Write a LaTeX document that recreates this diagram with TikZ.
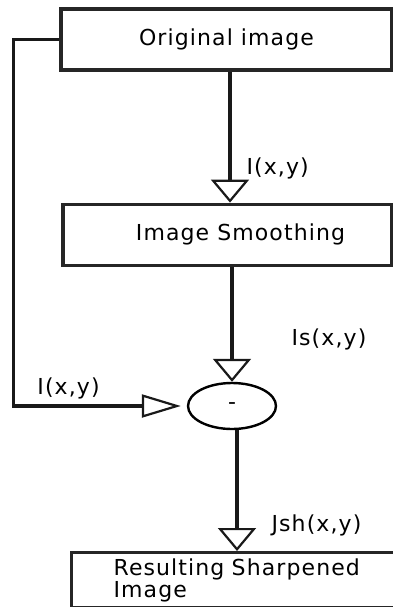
\documentclass[tikz,border=0pt]{standalone}
\usepackage{fontspec}
\newfontfamily\diagfont{DejaVu Sans}[LetterSpace=5]
\usepackage{tikz}
\usetikzlibrary{positioning, arrows.meta, shapes.geometric, calc}

\begin{document}
\begin{tikzpicture}[x=1pt, y=1pt, line width=3.2pt,
						font=\diagfont\fontsize{22}{22}\selectfont,
						box/.style={draw=black!85, rectangle, inner sep=0pt, minimum height=61pt},
						sumnode/.style={draw=black, ellipse, line width=2.4pt, fill=white, inner sep=0pt, minimum width=88pt, minimum height=46pt},
						sig/.style={inner sep=0pt},
						varr/.style={-{Triangle[open, length=23pt, width=38pt, line width=2.2pt]}, draw=black!90},
						harr/.style={-{Triangle[open, length=39pt, width=23pt, line width=2.2pt]}, draw=black!90}]
						
						\clip (0,0) rectangle (393,-607);
						
						\node[box, minimum width=331pt] (orig) at (226.5,-39.5) {Original image};
						\node[box, minimum width=329pt, below=131pt of orig, xshift=1pt] (smooth) {\hspace*{26pt}Image Smoothing};
						\node[sumnode, below=115pt of smooth, xshift=4.5pt] (sub) {-};
						\node[box, anchor=north west, minimum height=55pt, text width=260pt, inner xsep=42pt, align=left] (res) at (70,-551) {Resulting Sharpened\\Image};
						
						\draw[varr] ([xshift=3.5pt]orig.south) -- node[sig, pos=.74, right=15pt] {I(x,y)} ([xshift=3.5pt]orig.south |- smooth.north);
						\draw[varr] (sub.north |- smooth.south) -- node[sig, pos=.635, right=58pt] {Is(x,y)} (sub.north);
						\draw[varr] ([xshift=5pt]sub.south) -- node[sig, pos=.79, right=33pt] {Jsh(x,y)} ([xshift=5pt]sub.south |- res.north);
						\draw[harr, shorten >=6pt] (orig.west) -- ++(-46pt,0) |- node[sig, pos=.659, above=5pt] {I(x,y)} (sub.west);
					\end{tikzpicture}
\end{document}
